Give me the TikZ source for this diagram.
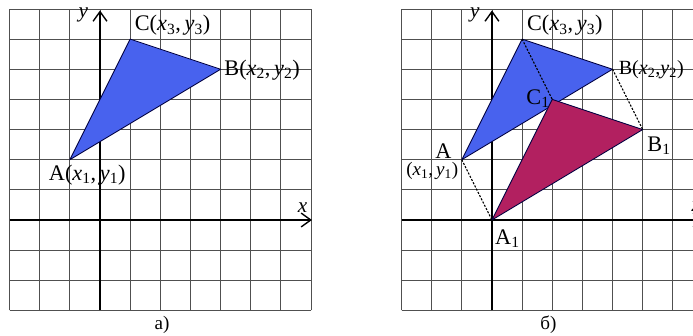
\documentclass[tikz,border=0pt]{standalone}
\usepackage{fontspec}
\setmainfont{Liberation Serif}
\usetikzlibrary{arrows.meta,calc}
\definecolor{triblue}{RGB}{72,98,238}
\definecolor{trimag}{RGB}{178,32,96}
\definecolor{gridgray}{RGB}{80,80,80}
\newcommand{\crd}[1]{(\textit{x}\textsubscript{#1},\,\textit{y}\textsubscript{#1})}

\begin{document}
\begin{tikzpicture}[font=\fontsize{21}{23}\selectfont,
          gridline/.style={gridgray,line width=0.8pt},
          axis/.style={line width=1.7pt,-{Straight Barb[length=3.2mm,width=4.6mm,line width=1.3pt]}},
          tri/.style={draw=black!75!blue,line width=0.8pt,line join=round},
          trace/.style={line width=1pt,dash pattern=on 2pt off 1.4pt},
          lbl/.style={inner sep=0pt},
          axlbl/.style={inner sep=0pt,font=\fontsize{20}{22}\selectfont\itshape},
          caption/.style={font=\fontsize{18}{20}\selectfont}]
        \clip (-3.317,-3.847) rectangle (19.668,7.297);

        % a) triangle ABC
        \begin{scope}
          \draw[gridline] (-3,-3) grid (7,7);
          \draw[axis] (-3,0) -- (0,0) -- (7.03,0);
          \draw[axis] (0,-3) -- (0,6.95);
          \coordinate (aA) at (-1,2);
          \coordinate (aB) at (4,5);
          \coordinate (aC) at (1,6);
          \filldraw[tri,fill=triblue] (aA) -- (aB) -- (aC) -- cycle;

          \node[axlbl] (ay) at (-0.55,6.8) {y};
          \node[axlbl] (ax) at (6.72,0.42) {x};
          \node[lbl,anchor=west] (laC) at (1.15,6.45) {C\crd{3}};
          \node[lbl,anchor=west] (laB) at (4.12,4.98) {B\crd{2}};
          \node[lbl,anchor=west] (laA) at (-1.7,1.49) {A\crd{1}};
          \node[caption] (capa) at (2.06,-3.48) {а)};
        \end{scope}

        % b) translated triangle A1B1C1
        \begin{scope}[xshift=13cm]
          \draw[gridline] (-3,-3) grid (7,7);
          \draw[axis] (-3,0) -- (0,0) -- (7.03,0);
          \draw[axis] (0,-3) -- (0,6.95);
          \coordinate (bA) at (-1,2);
          \coordinate (bB) at (4,5);
          \coordinate (bC) at (1,6);
          \coordinate (bA1) at (0,0);
          \coordinate (bB1) at (5,3);
          \coordinate (bC1) at (2,4);
          \filldraw[tri,fill=triblue] (bA) -- (bB) -- (bC) -- cycle;
          \filldraw[tri,fill=trimag] (bA1) -- (bB1) -- (bC1) -- cycle;
          \draw[trace] (bA) -- (bA1);
          \draw[trace] (bB) -- (bB1);
          \draw[trace] (bC) -- (bC1);

          \node[axlbl] (by) at (-0.57,6.8) {y};
          \node[axlbl] (bx) at (6.78,0.45) {x};
          \node[lbl,anchor=west] (lbC) at (1.16,6.45) {C\crd{3}};
          \node[lbl,anchor=west,font=\fontsize{19}{21}\selectfont] (lbB) at (4.2,4.98)
            {B(\textit{x}\textsubscript{2},\textit{y}\textsubscript{2})};
          \node[lbl] (lbA) at (-1.61,2.3) {A};
          \node[lbl,font=\fontsize{18}{20}\selectfont] (lbAc) at (-1.98,1.62) {\crd{1}};
          \node[lbl,anchor=east] (lbC1) at (1.92,4.02) {C\textsubscript{1}};
          \node[lbl,anchor=west] (lbB1) at (5.15,2.47) {B\textsubscript{1}};
          \node[lbl,anchor=west] (lbA1) at (0.1,-0.62) {A\textsubscript{1}};
          \node[caption] (capb) at (1.87,-3.48) {б)};
        \end{scope}
      \end{tikzpicture}
\end{document}
